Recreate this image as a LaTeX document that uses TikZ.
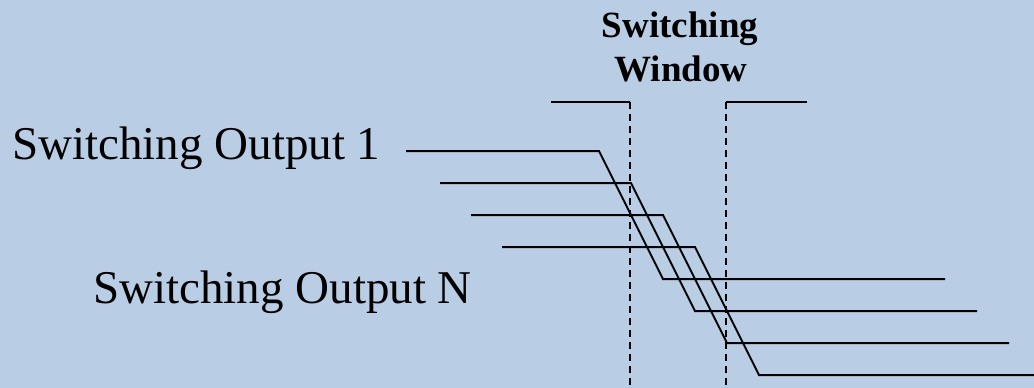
\documentclass[tikz,border=0pt]{standalone}
\usepackage{fontspec}
\setmainfont{Liberation Serif}
\definecolor{bgblue}{RGB}{185,205,229}
\begin{document}
\begin{tikzpicture}[x=1pt,y=-1pt,
  sig/.style={line width=2pt,black},
  win/.style={line width=1.7pt,black,dash pattern=on 7pt off 5pt},
  lab/.style={inner sep=0pt,anchor=base west,font=\fontsize{47}{56}\selectfont},
  ttl/.style={inner sep=0pt,anchor=base,font=\fontsize{37}{44}\selectfont\bfseries}]
\fill[bgblue] (0,0) rectangle (1034,388);
\useasboundingbox (0,0) rectangle (1034,388);
% labels
\node[lab] (o1) at (12,159) {Switching Output 1};
\node[lab] (oN) at (93,303) {Switching Output N};
\node[ttl] (t1) at (680,37) {Switching};
\node[ttl] (t2) at (681,81) {Window};
% switching window markers
\coordinate (wl0) at (551,102);
\coordinate (wl1) at (630,102);
\coordinate (wl2) at (630,388);
\coordinate (wr0) at (807,102);
\coordinate (wr1) at (726,102);
\coordinate (wr2) at (726,388);
\draw[sig] (wl0) -- (wl1);
\draw[win] (wl1) -- (wl2);
\draw[sig] (wr0) -- (wr1);
\draw[win] (wr1) -- (wr2);
% outputs
\draw[sig] (406,151) -- (599,151) -- (663,279) -- (945,279);
\draw[sig] (440,183) -- (631,183) -- (695,311) -- (977,311);
\draw[sig] (471,215) -- (663,215) -- (727,343) -- (1009,343);
\draw[sig] (502,247) -- (695,247) -- (759,375) -- (1040,375);
\end{tikzpicture}
\end{document}
